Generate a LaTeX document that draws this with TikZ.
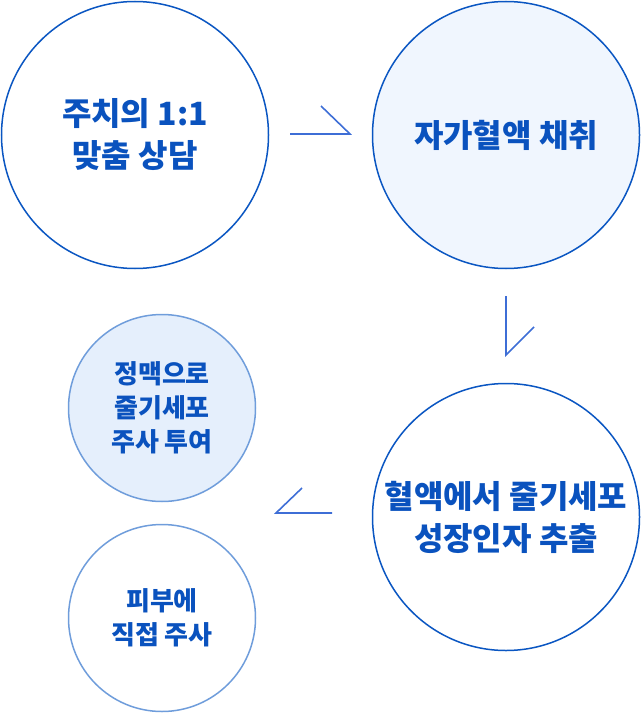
\documentclass[tikz,border=0pt]{standalone}
\usepackage{fontspec}
\setmainfont{Noto Sans CJK KR}
\definecolor{txtblue}{HTML}{0A52BE}
\definecolor{ringdark}{HTML}{0A56C2}
\definecolor{ringlight}{HTML}{6F9DDB}
\definecolor{fillpale}{HTML}{F0F6FE}
\definecolor{filllight}{HTML}{E5EFFC}
\definecolor{arrowblue}{HTML}{3E6ED6}
\tikzset{
  bigcirc/.style={circle, draw=ringdark, line width=1.5pt, minimum size=267pt, inner sep=0pt,
    align=center, text=txtblue, font=\bfseries\fontsize{32}{42}\selectfont},
  smallcirc/.style={circle, draw=ringlight, line width=1.5pt, minimum size=187pt, inner sep=0pt,
    align=center, text=txtblue, font=\bfseries\fontsize{26}{34}\selectfont},
  chevron/.style={draw=arrowblue, line width=1.6pt}
}
\begin{document}
\begin{tikzpicture}[x=1pt,y=-1pt]
\useasboundingbox (0,0) rectangle (641,714);
\node[bigcirc, fill=white] (c1) at (135,135) {주치의 1:1\\맞춤 상담};
\node[bigcirc, fill=fillpale] (c2) at (506,135) {자가혈액 채취};
\node[bigcirc, fill=white] (c3) at (506,517) {혈액에서 줄기세포\\성장인자 추출};
\node[smallcirc, fill=filllight] (c4) at (162,408) {정맥으로\\줄기세포\\주사 투여};
\node[smallcirc, fill=white] (c5) at (162,618) {피부에\\직접 주사};
% chevron arrows
\coordinate (a1) at (350,134);
\draw[chevron] (290,134) -- (a1) -- (321,106);
\coordinate (a2) at (506,355);
\draw[chevron] (506,296) -- (a2) -- (534,327);
\coordinate (a3) at (276,513);
\draw[chevron] (332,513) -- (a3) -- (302,488);
\end{tikzpicture}
\end{document}
